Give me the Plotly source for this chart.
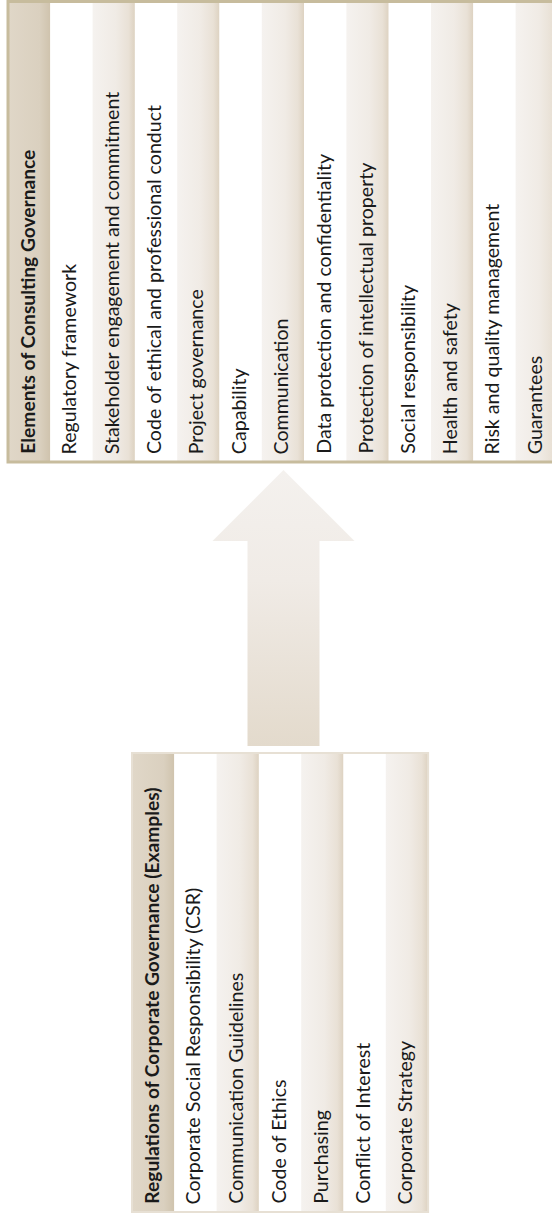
import plotly.graph_objects as go

# ---- content ----
left_header = "Regulations of Corporate Governance (Examples)"
left_items = [
    "Corporate Social Responsibility (CSR)",
    "Communication Guidelines",
    "Code of Ethics",
    "Purchasing",
    "Conflict of Interest",
    "Corporate Strategy",
]
right_header = "Elements of Consulting Governance"
right_items = [
    "Regulatory framework",
    "Stakeholder engagement and commitment",
    "Code of ethical and professional conduct",
    "Project governance",
    "Capability",
    "Communication",
    "Data protection and confidentiality",
    "Protection of intellectual property",
    "Social responsibility",
    "Health and safety",
    "Risk and quality management",
    "Guarantees",
]

# ---- layout constants ----
W, H = 552, 1214
PITCH = 42.3
FONT = "Lato"
FSIZE = 19.6
HSIZE = 19.2
TEXT_COLOR = "#1a1a1a"

HEADER_SCALE = [[0, "#E0D7C8"], [0.75, "#DAD0BF"], [1, "#CFC3AD"]]
SHADE_SCALE = [[0, "#F5F2EF"], [0.55, "#F0EBE5"], [0.85, "#E9E1D6"], [1, "#DDD2C1"]]

fig = go.Figure()


def cell(x0, x1, y0, y1, kind):
    xs = [x0, x1, x1, x0, x0]
    ys = [y0, y0, y1, y1, y0]
    if kind == "white":
        fig.add_trace(go.Scatter(x=xs, y=ys, mode="lines", fill="toself",
                                 fillcolor="#FFFFFF", line=dict(width=0),
                                 hoverinfo="skip", showlegend=False))
    else:
        scale = HEADER_SCALE if kind == "header" else SHADE_SCALE
        fig.add_trace(go.Scatter(x=xs, y=ys, mode="lines", fill="toself",
                                 fillgradient=dict(type="horizontal", colorscale=scale,
                                                   start=x0, stop=x1),
                                 line=dict(width=0),
                                 hoverinfo="skip", showlegend=False))


def table(header, items, x0, top, bottom, border_color, border_w):
    labels = [header] + items
    for i, lab in enumerate(labels):
        cx0 = x0 + i * PITCH
        cx1 = cx0 + PITCH
        if i == 0:
            kind = "header"
        elif i % 2 == 1:
            kind = "white"
        else:
            kind = "shade"
        cell(cx0, cx1, top, bottom, kind)
        txt = f"<b>{lab}</b>" if i == 0 else lab
        fig.add_annotation(x=(cx0 + cx1) / 2 - 2.5, y=bottom - 6, text=txt,
                           textangle=-90, showarrow=False,
                           xanchor="center", yanchor="bottom",
                           font=dict(family=FONT, size=HSIZE if i == 0 else FSIZE,
                                     color=TEXT_COLOR))
    x_end = x0 + len(labels) * PITCH
    fig.add_shape(type="rect", x0=x0, x1=x_end, y0=top, y1=bottom,
                  line=dict(color=border_color, width=border_w),
                  fillcolor="rgba(0,0,0,0)", layer="above")


# right (top) table
table(right_header, right_items, 8, 1.5, 462, "#C7BC9D", 3)
# left (bottom) table
table(left_header, left_items, 132, 753, 1212, "#E7E0D4", 2)

# arrow
ax_c, tip_y, head_y, shaft_bot = 283.5, 470, 541, 746
head_half, shaft_half = 71, 36
arrow_x = [ax_c, ax_c + head_half, ax_c + shaft_half, ax_c + shaft_half,
           ax_c - shaft_half, ax_c - shaft_half, ax_c - head_half, ax_c]
arrow_y = [tip_y, head_y, head_y, shaft_bot, shaft_bot, head_y, head_y, tip_y]
fig.add_trace(go.Scatter(x=arrow_x, y=arrow_y, mode="lines", fill="toself",
                         fillgradient=dict(type="vertical",
                                           colorscale=[[0, "#F4F1EE"], [0.4, "#F0EBE6"], [1, "#E3DACC"]],
                                           start=tip_y, stop=shaft_bot),
                         line=dict(width=0), hoverinfo="skip", showlegend=False))

fig.update_xaxes(range=[0, W], visible=False, fixedrange=True)
fig.update_yaxes(range=[H, 0], visible=False, fixedrange=True)
fig.update_layout(width=W, height=H, margin=dict(l=0, r=0, t=0, b=0),
                  paper_bgcolor="white", plot_bgcolor="white", showlegend=False)

fig.write_html("out.html", config={"displayModeBar": False},
               post_script="document.body.style.margin='0px';document.body.style.overflow='hidden';")
